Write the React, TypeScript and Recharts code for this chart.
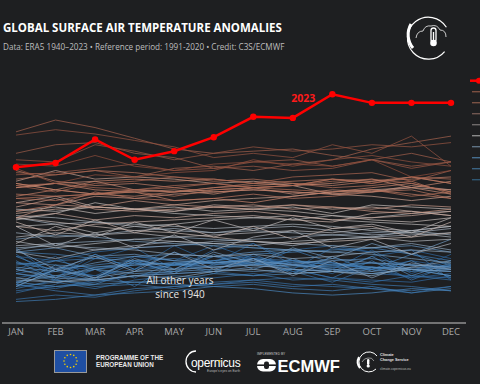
import React from 'react';
import { LineChart, Line, XAxis, YAxis } from 'recharts';

const MONTHS = ['JAN', 'FEB', 'MAR', 'APR', 'MAY', 'JUN', 'JUL', 'AUG', 'SEP', 'OCT', 'NOV', 'DEC'];

const Y2023 = [0.25, 0.29, 0.51, 0.32, 0.40, 0.53, 0.72, 0.71, 0.93, 0.85, 0.85, 0.85];

const D1940s: number[][] = [
  [-0.82, -0.70, -0.76, -0.62, -0.66, -0.58, -0.60, -0.64, -0.72, -0.70, -0.78, -0.74],
  [-0.50, -0.78, -0.56, -0.70, -0.48, -0.64, -0.46, -0.62, -0.70, -0.52, -0.72, -0.56],
  [-0.74, -0.68, -0.70, -0.64, -0.70, -0.62, -0.58, -0.66, -0.64, -0.70, -0.62, -0.68],
  [-0.70, -0.58, -0.80, -0.58, -0.62, -0.48, -0.60, -0.70, -0.50, -0.54, -0.74, -0.62],
  [-0.58, -0.62, -0.54, -0.50, -0.48, -0.46, -0.50, -0.52, -0.48, -0.54, -0.52, -0.60],
  [-0.56, -0.78, -0.60, -0.50, -0.70, -0.52, -0.46, -0.66, -0.74, -0.58, -0.52, -0.80],
  [-0.84, -0.88, -0.80, -0.76, -0.74, -0.72, -0.76, -0.70, -0.78, -0.80, -0.82, -0.76],
  [-0.78, -0.72, -0.76, -0.70, -0.66, -0.68, -0.64, -0.72, -0.70, -0.74, -0.76, -0.78],
  [-0.92, -0.84, -0.70, -0.78, -0.64, -0.74, -0.60, -0.72, -0.82, -0.68, -0.78, -0.66],
  [-0.86, -0.82, -0.88, -0.80, -0.76, -0.78, -0.74, -0.80, -0.78, -0.82, -0.76, -0.80],
];

const D1950s: number[][] = [
  [-0.98, -0.94, -0.96, -0.90, -0.86, -0.84, -0.80, -0.84, -0.86, -0.88, -0.92, -0.86],
  [-0.90, -0.86, -0.82, -0.76, -0.72, -0.66, -0.64, -0.62, -0.66, -0.68, -0.70, -0.66],
  [-0.62, -0.80, -0.70, -0.86, -0.64, -0.72, -0.56, -0.70, -0.78, -0.62, -0.80, -0.66],
  [-0.66, -0.62, -0.60, -0.58, -0.62, -0.64, -0.60, -0.62, -0.66, -0.68, -0.70, -0.72],
  [-0.88, -0.80, -0.86, -0.84, -0.88, -0.82, -0.80, -0.78, -0.80, -0.84, -0.86, -0.90],
  [-0.84, -0.90, -0.94, -0.88, -0.86, -0.84, -0.82, -0.86, -0.84, -0.88, -0.90, -0.86],
  [-1.00, -0.98, -0.94, -0.92, -0.90, -0.86, -0.84, -0.88, -0.90, -0.86, -0.92, -0.88],
  [-0.86, -0.70, -0.80, -0.64, -0.72, -0.58, -0.66, -0.52, -0.64, -0.70, -0.56, -0.62],
  [-0.54, -0.56, -0.60, -0.62, -0.60, -0.64, -0.62, -0.66, -0.68, -0.64, -0.66, -0.70],
  [-0.64, -0.70, -0.66, -0.62, -0.66, -0.64, -0.60, -0.66, -0.68, -0.70, -0.66, -0.68],
];

const D1960s: number[][] = [
  [-0.74, -0.80, -0.84, -0.72, -0.66, -0.64, -0.66, -0.62, -0.64, -0.68, -0.72, -0.70],
  [-0.58, -0.72, -0.56, -0.70, -0.54, -0.66, -0.60, -0.74, -0.58, -0.72, -0.62, -0.78],
  [-0.64, -0.66, -0.68, -0.64, -0.66, -0.62, -0.64, -0.68, -0.66, -0.64, -0.70, -0.72],
  [-0.72, -0.62, -0.70, -0.66, -0.64, -0.62, -0.56, -0.54, -0.52, -0.50, -0.56, -0.66],
  [-0.70, -0.76, -0.80, -0.82, -0.84, -0.86, -0.88, -0.92, -0.94, -0.92, -0.88, -0.90],
  [-0.82, -0.86, -0.84, -0.82, -0.80, -0.74, -0.76, -0.74, -0.72, -0.74, -0.70, -0.76],
  [-0.84, -0.66, -0.78, -0.62, -0.74, -0.56, -0.70, -0.60, -0.72, -0.58, -0.76, -0.64],
  [-0.74, -0.78, -0.68, -0.66, -0.64, -0.68, -0.66, -0.64, -0.62, -0.60, -0.66, -0.68],
  [-0.82, -0.76, -0.70, -0.74, -0.72, -0.70, -0.72, -0.70, -0.72, -0.68, -0.70, -0.76],
  [-0.68, -0.72, -0.64, -0.58, -0.56, -0.58, -0.54, -0.52, -0.54, -0.50, -0.48, -0.54],
];

const D1970s: number[][] = [
  [-0.54, -0.50, -0.58, -0.56, -0.62, -0.64, -0.62, -0.66, -0.60, -0.64, -0.66, -0.68],
  [-0.70, -0.78, -0.80, -0.76, -0.74, -0.72, -0.68, -0.66, -0.70, -0.72, -0.68, -0.70],
  [-0.86, -0.70, -0.78, -0.60, -0.70, -0.54, -0.64, -0.50, -0.60, -0.46, -0.56, -0.42],
  [-0.42, -0.38, -0.40, -0.44, -0.46, -0.48, -0.50, -0.52, -0.54, -0.56, -0.60, -0.64],
  [-0.80, -0.82, -0.78, -0.72, -0.70, -0.68, -0.66, -0.70, -0.72, -0.74, -0.70, -0.72],
  [-0.52, -0.70, -0.58, -0.72, -0.54, -0.70, -0.60, -0.76, -0.62, -0.78, -0.64, -0.70],
  [-0.78, -0.82, -0.80, -0.76, -0.78, -0.72, -0.70, -0.74, -0.72, -0.76, -0.68, -0.62],
  [-0.52, -0.46, -0.44, -0.42, -0.40, -0.42, -0.44, -0.46, -0.48, -0.50, -0.46, -0.52],
  [-0.50, -0.48, -0.50, -0.52, -0.56, -0.58, -0.56, -0.60, -0.58, -0.54, -0.52, -0.54],
  [-0.54, -0.60, -0.52, -0.50, -0.48, -0.44, -0.42, -0.40, -0.38, -0.36, -0.34, -0.30],
];

const D1980s: number[][] = [
  [-0.36, -0.40, -0.38, -0.34, -0.32, -0.36, -0.34, -0.36, -0.38, -0.40, -0.34, -0.38],
  [-0.22, -0.28, -0.26, -0.30, -0.34, -0.36, -0.32, -0.30, -0.34, -0.38, -0.36, -0.32],
  [-0.48, -0.46, -0.52, -0.48, -0.44, -0.46, -0.44, -0.48, -0.42, -0.40, -0.38, -0.36],
  [-0.20, -0.22, -0.26, -0.28, -0.30, -0.32, -0.30, -0.28, -0.30, -0.34, -0.36, -0.40],
  [-0.30, -0.48, -0.36, -0.50, -0.38, -0.52, -0.40, -0.34, -0.50, -0.42, -0.56, -0.46],
  [-0.44, -0.50, -0.46, -0.42, -0.44, -0.46, -0.48, -0.44, -0.42, -0.40, -0.44, -0.42],
  [-0.40, -0.36, -0.38, -0.36, -0.40, -0.38, -0.36, -0.34, -0.36, -0.32, -0.34, -0.30],
  [-0.30, -0.28, -0.36, -0.30, -0.28, -0.24, -0.22, -0.24, -0.20, -0.22, -0.18, -0.16],
  [-0.14, -0.16, -0.12, -0.14, -0.18, -0.20, -0.22, -0.20, -0.24, -0.26, -0.28, -0.30],
  [-0.46, -0.30, -0.40, -0.26, -0.36, -0.24, -0.34, -0.22, -0.32, -0.28, -0.36, -0.22],
];

const D1990s: number[][] = [
  [-0.24, -0.18, -0.08, -0.14, -0.12, -0.16, -0.14, -0.12, -0.18, -0.10, -0.12, -0.14],
  [-0.16, -0.12, -0.18, -0.14, -0.16, -0.12, -0.14, -0.16, -0.20, -0.24, -0.26, -0.22],
  [-0.22, -0.26, -0.30, -0.34, -0.36, -0.40, -0.44, -0.46, -0.44, -0.42, -0.40, -0.36],
  [-0.26, -0.38, -0.24, -0.36, -0.28, -0.40, -0.30, -0.42, -0.32, -0.30, -0.40, -0.26],
  [-0.30, -0.34, -0.28, -0.26, -0.24, -0.22, -0.20, -0.24, -0.26, -0.18, -0.16, -0.20],
  [-0.08, -0.02, -0.12, -0.14, -0.16, -0.10, -0.12, -0.10, -0.14, -0.12, -0.16, -0.20],
  [-0.22, -0.18, -0.24, -0.20, -0.22, -0.18, -0.16, -0.20, -0.24, -0.22, -0.20, -0.16],
  [-0.18, -0.14, -0.12, -0.14, -0.10, -0.06, -0.04, -0.02, 0.02, 0.04, 0.06, 0.04],
  [0.12, 0.22, 0.14, 0.16, 0.14, 0.10, 0.12, 0.08, 0.00, -0.02, -0.06, -0.02],
  [-0.12, -0.04, -0.14, -0.16, -0.14, -0.12, -0.10, -0.14, -0.12, -0.14, -0.10, -0.12],
];

const D2000s: number[][] = [
  [-0.22, -0.10, -0.12, -0.06, -0.10, -0.12, -0.14, -0.10, -0.12, -0.16, -0.18, -0.14],
  [-0.08, -0.10, -0.02, -0.04, 0.00, 0.02, 0.04, 0.02, 0.00, 0.02, 0.08, 0.04],
  [0.06, 0.10, 0.12, 0.04, 0.02, 0.04, 0.06, 0.00, 0.04, 0.02, 0.06, 0.00],
  [0.10, 0.04, 0.00, 0.02, 0.04, 0.00, 0.06, 0.08, 0.10, 0.14, 0.06, 0.12],
  [0.06, 0.10, 0.04, 0.02, -0.06, -0.04, -0.08, -0.02, 0.02, 0.06, 0.10, 0.02],
  [0.10, 0.04, 0.12, 0.14, 0.12, 0.14, 0.10, 0.08, 0.14, 0.12, 0.16, 0.10],
  [-0.02, 0.04, 0.00, -0.02, 0.02, 0.06, 0.08, 0.10, 0.08, 0.12, 0.14, 0.16],
  [0.22, 0.12, 0.08, 0.10, 0.06, 0.02, 0.04, 0.02, 0.00, 0.04, 0.00, -0.04],
  [-0.16, -0.10, 0.02, -0.04, -0.06, -0.04, 0.00, -0.04, -0.02, 0.02, 0.04, -0.04],
  [0.00, -0.02, 0.00, 0.04, 0.02, 0.06, 0.10, 0.12, 0.14, 0.10, 0.16, 0.10],
];

const D2010s: number[][] = [
  [0.14, 0.18, 0.22, 0.20, 0.16, 0.12, 0.14, 0.10, 0.06, 0.08, 0.12, 0.00],
  [-0.04, -0.06, 0.00, 0.02, -0.02, 0.04, 0.06, 0.04, 0.02, 0.04, -0.02, 0.02],
  [-0.04, -0.02, 0.00, 0.04, 0.06, 0.10, 0.06, 0.08, 0.12, 0.14, 0.10, 0.02],
  [0.08, 0.10, 0.06, 0.04, 0.08, 0.10, 0.06, 0.08, 0.14, 0.10, 0.16, 0.14],
  [0.08, 0.02, 0.10, 0.12, 0.16, 0.14, 0.10, 0.16, 0.18, 0.20, 0.12, 0.22],
  [0.20, 0.18, 0.22, 0.16, 0.24, 0.26, 0.22, 0.28, 0.32, 0.42, 0.48, 0.54],
  [0.58, 0.69, 0.62, 0.52, 0.42, 0.38, 0.40, 0.42, 0.36, 0.32, 0.38, 0.30],
  [0.38, 0.46, 0.48, 0.38, 0.34, 0.24, 0.30, 0.32, 0.26, 0.32, 0.26, 0.30],
  [0.18, 0.20, 0.24, 0.28, 0.22, 0.24, 0.26, 0.22, 0.24, 0.32, 0.24, 0.30],
  [0.32, 0.30, 0.46, 0.40, 0.32, 0.38, 0.44, 0.40, 0.42, 0.46, 0.44, 0.48],
];

const D2020s: number[][] = [
  [0.55, 0.60, 0.56, 0.50, 0.44, 0.34, 0.38, 0.34, 0.46, 0.38, 0.54, 0.26],
  [0.24, 0.10, 0.18, 0.16, 0.20, 0.22, 0.32, 0.26, 0.32, 0.36, 0.30, 0.26],
  [0.28, 0.26, 0.36, 0.26, 0.22, 0.28, 0.30, 0.28, 0.26, 0.32, 0.16, 0.22],
];

const DECADES: [number, number[][]][] = [
  [1940, D1940s], [1950, D1950s], [1960, D1960s], [1970, D1970s], [1980, D1980s],
  [1990, D1990s], [2000, D2000s], [2010, D2010s], [2020, D2020s],
];

const LEGEND_TICKS = ['#7b4e40', '#7a5244', '#6f5650', '#6e6a6a', '#8a8a8a', '#5f7385', '#466e90', '#3a6282', '#2e5672'];

const YEARS: number[] = [];
const SERIES: Record<number, number[]> = {};
DECADES.forEach(([start, rows]) => {
  rows.forEach((vals, i) => {
    YEARS.push(start + i);
    SERIES[start + i] = vals;
  });
});

const DATA = MONTHS.map((m, i) => {
  const row: Record<string, any> = { month: m, y2023: Y2023[i] };
  YEARS.forEach((y) => {
    row['y' + y] = SERIES[y][i];
  });
  return row;
});

const STOPS: [number, number[]][] = [
  [0, [40, 95, 150]],
  [0.3, [75, 135, 190]],
  [0.5, [160, 172, 185]],
  [0.62, [195, 186, 182]],
  [0.78, [200, 132, 108]],
  [1, [142, 76, 58]],
];

function colorFor(t: number) {
  for (let i = 1; i < STOPS.length; i++) {
    if (t <= STOPS[i][0]) {
      const [t0, c0] = STOPS[i - 1];
      const [t1, c1] = STOPS[i];
      const f = (t - t0) / (t1 - t0);
      const c = c0.map((v, k) => Math.round(v + (c1[k] - v) * f));
      return `rgb(${c[0]},${c[1]},${c[2]})`;
    }
  }
  return 'rgb(142,76,58)';
}

const FONT = "'Open Sans', 'DejaVu Sans', sans-serif";

function Label2023(p: any) {
  if (p.index !== 8) return null;
  return (
    <text x={p.x - 17} y={p.y + 7.5} textAnchor="end" fill="#ff1a1a" fontSize={10.5} fontWeight={700} fontFamily={FONT}>
      2023
    </text>
  );
}

function Overlay() {
  const stars = Array.from({ length: 12 }, (_, i) => {
    const a = (i / 12) * Math.PI * 2;
    return [70.5 + Math.cos(a) * 6.5, 361 + Math.sin(a) * 6.5];
  });
  return (
    <svg width={480} height={384} style={{ position: 'absolute', left: 0, top: 0, pointerEvents: 'none' }}>
      <text x={3} y={31.5} fill="#ffffff" fontSize={11.5} fontWeight={700} fontFamily={FONT}>
        GLOBAL SURFACE AIR TEMPERATURE ANOMALIES
      </text>
      <text x={3} y={49.5} fill="#bdbdbd" fontSize={8.15} fontFamily={FONT}>
        Data: ERA5 1940–2023 • Reference period: 1991-2020 • Credit: C3S/ECMWF
      </text>
      {/* top-right logo */}
      <path d="M446.4 27.3 A21 21 0 1 0 444.6 51.6" fill="none" stroke="#ffffff" strokeWidth={1.2} />
      <path d="M413 48 A21 21 0 0 1 411 24" fill="none" stroke="#ffffff" strokeWidth={3} />
      <path d="M416 38 Q417 31 423 31 Q425 25 431 26 Q437 24 440 30 Q446 30 446 37" fill="none" stroke="#dddddd" strokeWidth={0.9} />
      <rect x={431} y={28} width={5} height={14} rx={2.5} fill="none" stroke="#ffffff" strokeWidth={1.3} />
      <circle cx={433.5} cy={43} r={3.3} fill="#ffffff" />
      <line x1={433.5} y1={32} x2={433.5} y2={42} stroke="#ffffff" strokeWidth={1.3} />
      {/* right legend marks */}
      <line x1={470} y1={80.7} x2={480} y2={80.7} stroke="#ff0000" strokeWidth={2.5} />
      <circle cx={479} cy={80.7} r={3} fill="#ff0000" />
      {LEGEND_TICKS.map((c, i) => (
        <line key={i} x1={472} y1={91.7 + i * 11} x2={480} y2={91.7 + i * 11} stroke={c} strokeWidth={1.4} />
      ))}
      {/* in-chart note */}
      <text x={180} y={283.5} textAnchor="middle" fill="#e6e6e6" fontSize={10} fontFamily={FONT}>
        All other years
      </text>
      <text x={180} y={298} textAnchor="middle" fill="#e6e6e6" fontSize={10} fontFamily={FONT}>
        since 1940
      </text>
      {/* footer: EU */}
      <rect x={54.5} y={350.5} width={32} height={22} fill="#1f4fa3" stroke="#9a9a9a" strokeWidth={1} />
      {stars.map(([x, y], i) => (
        <circle key={i} cx={x} cy={y} r={0.8} fill="#f5d000" />
      ))}
      <text x={96} y={359.5} fill="#e8e8e8" fontSize={6.3} fontWeight={700} fontFamily="'Liberation Sans', Arial, sans-serif">
        PROGRAMME OF THE
      </text>
      <text x={96} y={367} fill="#e8e8e8" fontSize={6.3} fontWeight={700} fontFamily="'Liberation Sans', Arial, sans-serif">
        EUROPEAN UNION
      </text>
      {/* Copernicus */}
      <path d="M196 351 A10 10.5 0 1 0 196 372" fill="none" stroke="#ffffff" strokeWidth={1.3} />
      <text x={191} y={367} fill="#ffffff" fontSize={12} fontFamily="'Liberation Sans', Arial, sans-serif" letterSpacing={-0.3}>
        opernicus
      </text>
      <circle cx={219.5} cy={361} r={1.1} fill="#f5c400" />
      <text x={207} y={372} fill="#bbbbbb" fontSize={3.2} fontFamily="'Liberation Sans', Arial, sans-serif">
        Europe's eyes on Earth
      </text>
      {/* ECMWF */}
      <text x={257} y={354.5} fill="#cccccc" fontSize={3.2} fontFamily="'Liberation Sans', Arial, sans-serif">
        IMPLEMENTED BY
      </text>
      <rect x={257} y={359} width={19} height={12.5} rx={6} fill="#ffffff" />
      <line x1={257} y1={365.2} x2={276} y2={365.2} stroke="#1e1f21" strokeWidth={1.6} />
      <rect x={264} y={361.5} width={5} height={7.5} rx={2} fill="#1e1f21" />
      <text x={277.5} y={371.6} fill="#ffffff" fontSize={16.5} fontWeight={700} fontFamily="'Liberation Sans', Arial, sans-serif">
        ECMWF
      </text>
      {/* Climate Change Service */}
      <path d="M377 356 A10 10 0 1 0 376 369" fill="none" stroke="#ffffff" strokeWidth={1} />
      <path d="M360 368 A10 10 0 0 1 359 357" fill="none" stroke="#ffffff" strokeWidth={2} />
      <path d="M362 362 Q364 358 368 358 Q372 357 374 361" fill="none" stroke="#dddddd" strokeWidth={0.6} />
      <rect x={367} y={359} width={2.4} height={6} rx={1.2} fill="#ffffff" />
      <circle cx={368.2} cy={366} r={1.6} fill="#ffffff" />
      <text x={380} y={355.5} fill="#e0e0e0" fontSize={3.8} fontWeight={700} fontFamily="'Liberation Sans', Arial, sans-serif">
        Climate
      </text>
      <text x={380} y={360.5} fill="#e0e0e0" fontSize={3.8} fontWeight={700} fontFamily="'Liberation Sans', Arial, sans-serif">
        Change Service
      </text>
      <text x={380} y={369.5} fill="#bbbbbb" fontSize={3.2} fontFamily="'Liberation Sans', Arial, sans-serif">
        climate.copernicus.eu
      </text>
    </svg>
  );
}

export default function App() {
  const n = YEARS.length - 1;
  return (
    <div style={{ position: 'absolute', left: 0, top: 0, width: 480, height: 384, background: '#1e1f21', overflow: 'hidden' }}>
      <div style={{ position: 'absolute', left: 0, top: 0 }}>
        <LineChart width={480} height={384} data={DATA} margin={{ top: 76, right: 14, left: 2, bottom: 41 }}>
          <XAxis
            dataKey="month"
            height={20}
            interval={0}
            padding={{ left: 14, right: 15 }}
            axisLine={{ stroke: '#c8c8c8', strokeWidth: 1.2 }}
            tickLine={false}
            tickSize={0}
            tickMargin={5}
            tick={{ fill: '#a8a8a8', fontSize: 9.5, fontFamily: FONT }}
          />
          <YAxis hide type="number" domain={[-1.2, 1.1]} />
          {YEARS.map((y, i) => (
            <Line
              key={y}
              dataKey={'y' + y}
              type="linear"
              stroke={colorFor(i / n)}
              strokeOpacity={0.8}
              strokeWidth={0.9}
              dot={false}
              activeDot={false}
              isAnimationActive={false}
            />
          ))}
          <Line
            dataKey="y2023"
            type="linear"
            stroke="#ff0000"
            strokeWidth={2.5}
            dot={{ r: 3.2, fill: '#ff0000', stroke: '#ff0000', strokeWidth: 0 }}
            activeDot={false}
            isAnimationActive={false}
            label={Label2023}
          />
        </LineChart>
      </div>
      <Overlay />
    </div>
  );
}
